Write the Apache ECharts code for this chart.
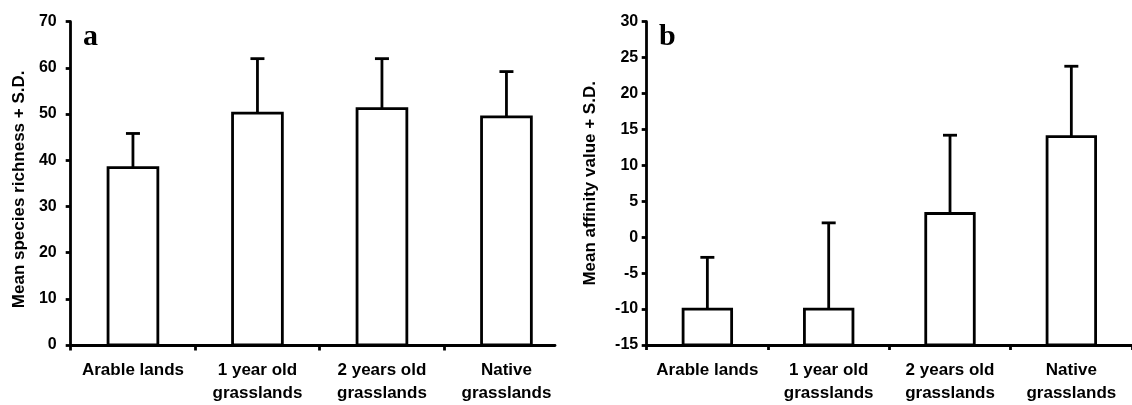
<!DOCTYPE html>
<html>
<head>
<meta charset="utf-8">
<script src="https://cdn.jsdelivr.net/npm/echarts@6/dist/echarts.min.js"></script>
<style>
html,body{margin:0;padding:0;background:#fff;}
#chart{width:1132px;height:405px;}
</style>
</head>
<body>
<div id="chart"></div>
<script>
// ---- data ----
const categories = ['Arable lands', '1 year old\ngrasslands', '2 years old\ngrasslands', 'Native\ngrasslands'];
const richnessMean = [38.4, 50.2, 51.2, 49.4];
const richnessSD = [7.4, 11.8, 10.8, 9.8];
const affinityMean = [-10.0, -10.0, 3.3, 14.0];
const affinitySD = [7.2, 12.0, 10.9, 9.8];
const richnessRange = [0, 70, 10];     // min, max, interval
const affinityRange = [-15, 30, 5];    // min, max, interval
const categoryBoundaryTicks = [0, 1, 2, 3];

// ---- styling ----
const FONT = 'Liberation Sans, Arial, sans-serif';
const LW = 2.8;

function makeRender(baseVal) {
  return function (params, api) {
    const idx = api.value(0), mean = api.value(1), sd = api.value(2);
    const top = api.coord([idx, mean]);
    const base = api.coord([idx, baseVal]);
    const err = api.coord([idx, mean + sd]);
    const w = api.size([1, 0])[0] * 0.4;
    const cap = 14;
    return {
      type: 'group',
      children: [
        { type: 'line', shape: { x1: top[0], y1: top[1], x2: top[0], y2: err[1] }, style: { stroke: '#000', lineWidth: LW } },
        { type: 'line', shape: { x1: top[0] - cap / 2, y1: err[1], x2: top[0] + cap / 2, y2: err[1] }, style: { stroke: '#000', lineWidth: LW } },
        { type: 'rect', shape: { x: top[0] - w / 2, y: top[1], width: w, height: base[1] - top[1] }, style: { fill: '#fff', stroke: '#000', lineWidth: LW } }
      ]
    };
  };
}

const tickLabel = { color: '#000', fontFamily: FONT, fontWeight: 'bold', fontSize: 16 };
const catLabel = { color: '#000', fontFamily: FONT, fontWeight: 'bold', fontSize: 17, lineHeight: 23, margin: 14, interval: 0, verticalAlign: 'top' };
const axisLineStyle = { show: true, onZero: false, lineStyle: { color: '#000', width: LW } };
const axisTickStyle = { show: true, inside: false, length: 5, lineStyle: { color: '#000', width: LW } };

const chart = echarts.init(document.getElementById('chart'));
chart.setOption({
  backgroundColor: '#fff',
  animation: false,
  grid: [
    { left: 70.7, top: 21.7, width: 498, height: 323.8 },
    { left: 70.7, top: 21.7, width: 484.3, height: 323.8 },
    { left: 646.7, top: 21.7, width: 491.6, height: 326.6 }
  ],
  xAxis: [
    { type: 'category', gridIndex: 0, data: categories, axisLine: { show: false, onZero: false }, axisTick: { show: false }, axisLabel: catLabel, splitLine: { show: false } },
    { type: 'value', gridIndex: 1, min: 0, max: 484.3 / 124.5, axisLine: axisLineStyle, axisTick: Object.assign({}, axisTickStyle, { customValues: categoryBoundaryTicks }), axisLabel: { show: false }, splitLine: { show: false } },
    { type: 'category', gridIndex: 2, data: categories, axisLine: axisLineStyle, axisTick: axisTickStyle, axisLabel: catLabel, splitLine: { show: false } }
  ],
  yAxis: [
    { type: 'value', gridIndex: 0, min: richnessRange[0], max: richnessRange[1], interval: richnessRange[2],
      axisLine: axisLineStyle, axisTick: axisTickStyle, splitLine: { show: false },
      axisLabel: Object.assign({}, tickLabel, { margin: 14 }),
      name: 'Mean species richness + S.D.', nameLocation: 'middle', nameGap: 43,
      nameTextStyle: { color: '#000', fontFamily: FONT, fontWeight: 'bold', fontSize: 17, padding: [0, 12, 0, 0] } },
    { type: 'value', gridIndex: 1, min: richnessRange[0], max: richnessRange[1], show: false },
    { type: 'value', gridIndex: 2, min: affinityRange[0], max: affinityRange[1], interval: affinityRange[2],
      axisLine: axisLineStyle, axisTick: axisTickStyle, splitLine: { show: false },
      axisLabel: Object.assign({}, tickLabel, { margin: 8.5 }),
      name: 'Mean affinity value + S.D.', nameLocation: 'middle', nameGap: 48,
      nameTextStyle: { color: '#000', fontFamily: FONT, fontWeight: 'bold', fontSize: 17 } }
  ],
  series: [
    { type: 'custom', xAxisIndex: 0, yAxisIndex: 0, renderItem: makeRender(richnessRange[0]),
      encode: { x: 0, y: 1 }, clip: false,
      data: richnessMean.map((m, i) => [i, m, richnessSD[i]]) },
    { type: 'custom', xAxisIndex: 2, yAxisIndex: 2, renderItem: makeRender(affinityRange[0]),
      encode: { x: 0, y: 1 }, clip: false,
      data: affinityMean.map((m, i) => [i, m, affinitySD[i]]) }
  ],
  graphic: [
    { type: 'text', left: 83, top: 22, style: { text: 'a', font: 'bold 30px "Liberation Serif", "Times New Roman", serif', fill: '#000' } },
    { type: 'text', left: 659, top: 22, style: { text: 'b', font: 'bold 30px "Liberation Serif", "Times New Roman", serif', fill: '#000' } }
  ]
});
</script>
</body>
</html>
